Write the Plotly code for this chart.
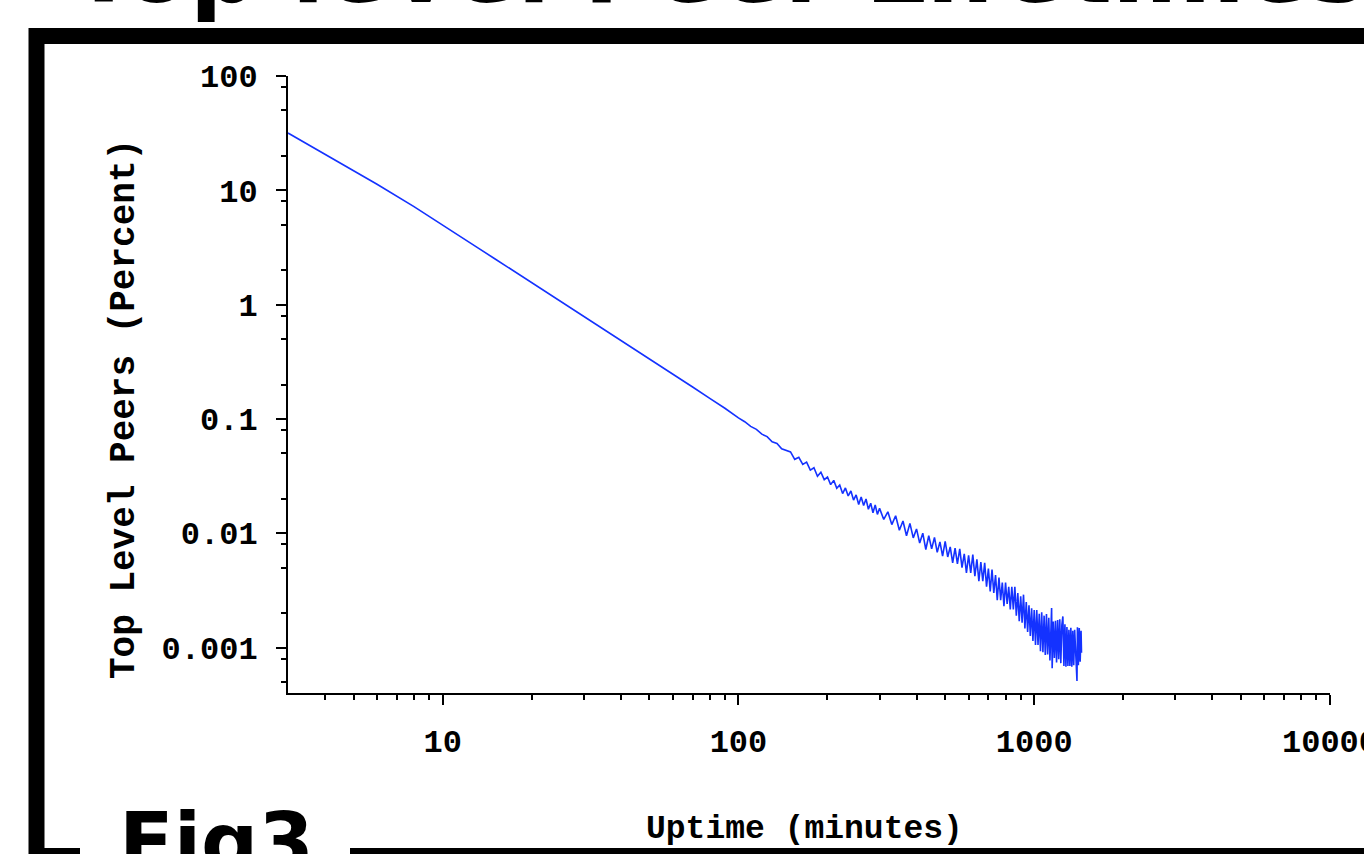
import plotly.graph_objects as go

# ---------------- data ----------------
uptime_minutes = [
    3, 4, 5, 6, 8, 10, 12, 13, 15, 20, 25, 30, 40, 50, 60, 70, 80, 90, 100,
    105, 110, 115, 120, 125, 130, 135, 140, 145,
    150, 155, 160, 165, 170, 175, 180, 185, 190, 195, 200, 205, 210, 215, 220, 225,
    230, 235, 240, 245, 250, 255, 260, 265, 270, 275, 280, 285, 290, 295, 300,
    310, 320, 330, 340, 350, 360, 370, 380, 390, 400, 410, 420, 430, 440, 450,
    460, 470, 480, 490, 500, 510, 520, 530, 540, 550, 560, 570, 580, 590, 600,
    610, 620, 630, 640, 650, 660, 670, 680, 690, 700, 710, 720, 730, 740, 750,
    760, 770, 780, 790, 800, 810, 820, 830, 840, 850, 860, 870, 880, 890, 900,
    910, 920, 930, 940, 950, 960, 970, 980, 990, 1000, 1010, 1020, 1030, 1040,
    1050, 1060, 1070, 1080, 1090, 1100, 1110, 1120, 1130, 1140, 1145, 1150, 1160,
    1170, 1180, 1190, 1200, 1210, 1220, 1230, 1240, 1250, 1260, 1270, 1280, 1290,
    1300, 1310, 1320, 1330, 1340, 1350, 1360, 1370, 1380, 1395, 1400, 1410, 1420,
    1430, 1440, 1445,
]
peers_percent = [
    31.7, 20.8, 15.0, 11.3, 7.2, 5.0, 3.7, 3.2, 2.52, 1.56, 1.07, 0.79, 0.485,
    0.333, 0.246, 0.190, 0.151, 0.124, 0.102,
    0.0945, 0.0860, 0.0810, 0.0735, 0.0700, 0.0630, 0.0610, 0.0548, 0.0530,
    0.0514, 0.0443, 0.0462, 0.0400, 0.0419, 0.0356, 0.0374, 0.0315, 0.0342, 0.0294,
    0.0310, 0.0266, 0.0290, 0.0247, 0.0264, 0.0222, 0.0249, 0.0212, 0.0234, 0.0195,
    0.0216, 0.0178, 0.0207, 0.0175, 0.0199, 0.0162, 0.0183, 0.0151, 0.0177, 0.0146,
    0.0165,
    0.0132, 0.0154, 0.0119, 0.0142, 0.0106, 0.0128, 0.0095, 0.0122, 0.0091, 0.0109,
    0.0082, 0.0100, 0.0072, 0.0095, 0.0073, 0.0092, 0.0068, 0.0084, 0.0063, 0.0085,
    0.0062, 0.0076, 0.0055, 0.0074, 0.0054, 0.0073, 0.0050, 0.0066, 0.0045, 0.0064,
    0.0045, 0.0065, 0.0042, 0.0059, 0.0038, 0.0056, 0.0038, 0.0055, 0.0034, 0.0049,
    0.0031, 0.0048, 0.0030, 0.0043, 0.0026, 0.0041, 0.0026, 0.0037, 0.0023, 0.0037,
    0.0024, 0.0034, 0.00215, 0.0034, 0.00215, 0.0034, 0.0019, 0.0030, 0.0017, 0.0028,
    0.00165, 0.0029, 0.00147, 0.0025, 0.00137, 0.00234, 0.00126, 0.0022, 0.00114,
    0.00213, 0.00105, 0.00213, 0.00105, 0.00197, 0.00093, 0.00203, 0.00091, 0.0019,
    0.00086, 0.00196, 0.00087, 0.00182, 0.00077, 0.0019, 0.00222, 0.00066, 0.00169,
    0.00081, 0.00171, 0.00074, 0.00174, 0.00079, 0.00177, 0.00073, 0.00157, 0.00187,
    0.00069, 0.0016, 0.00068, 0.00151, 0.00069, 0.00143, 0.00069, 0.00149, 0.00068,
    0.0014, 0.0007, 0.00143, 0.00078, 0.00051, 0.0015, 0.0007, 0.00148, 0.00075,
    0.0014, 0.0009,
]

x_tick_vals = [10, 100, 1000, 10000]
x_tick_text = ["10", "100", "1000", "10000"]
x_minor_vals = [4, 5, 6, 7, 8, 9, 20, 30, 40, 50, 60, 70, 80, 90,
                200, 300, 400, 500, 600, 700, 800, 900,
                2000, 3000, 4000, 5000, 6000, 7000, 8000, 9000]
y_tick_vals = [100, 10, 1, 0.1, 0.01, 0.001]
y_tick_text = ["100", "10", "1", "0.1", "0.01", "0.001"]
y_minor_vals = [80, 50, 20, 8, 5, 2, 0.8, 0.5, 0.2, 0.08, 0.05, 0.02,
                0.008, 0.005, 0.002, 0.0008, 0.0005]

title_text = "Top level Peer Lifetimes"
x_title = "Uptime (minutes)"
y_title = "Top Level Peers (Percent)"
fig_label = "Fig3"

# ---------------- layout geometry ----------------
W, H = 1364, 854
ML, MR, MT, MB = 288, 34, 76, 161
PW, PH = W - ML - MR, H - MT - MB


def px(x):
    return (x - ML) / PW


def py(y):
    return (H - MB - y) / PH


mono = "Liberation Mono, DejaVu Sans Mono, monospace"

fig = go.Figure()
fig.add_trace(go.Scatter(
    x=uptime_minutes, y=peers_percent, mode="lines",
    line=dict(color="rgb(20,50,255)", width=1.6),
    showlegend=False, hoverinfo="x+y",
))

axis_common = dict(
    type="log", showgrid=False, zeroline=False, showline=True,
    linecolor="black", linewidth=2, ticks="outside", ticklen=10,
    tickwidth=2, tickcolor="black", tickmode="array",
    tickfont=dict(family=mono, size=32, color="black", weight="bold"),
    automargin=False, ticklabeloverflow="allow",
)

fig.update_xaxes(
    **axis_common, range=[0.47712, 4.0],
    tickvals=x_tick_vals, ticktext=x_tick_text, ticklabelstandoff=9,
    minor=dict(tickmode="array", tickvals=x_minor_vals, ticks="outside",
               ticklen=5, tickwidth=2, tickcolor="black", showgrid=False),
)
fig.update_yaxes(
    **axis_common, range=[-3.398, 2.0],
    tickvals=y_tick_vals, ticktext=y_tick_text, ticklabelstandoff=12,
    minor=dict(tickmode="array", tickvals=y_minor_vals, ticks="outside",
               ticklen=5, tickwidth=2, tickcolor="black", showgrid=False),
)

shapes = [
    # thick slide frame
    dict(type="rect", xref="paper", yref="paper",
         x0=px(36.5), x1=px(1420), y0=py(856), y1=py(36),
         line=dict(color="black", width=16), fillcolor="rgba(0,0,0,0)",
         layer="above"),
    # white gap behind "Fig3"
    dict(type="rect", xref="paper", yref="paper",
         x0=px(80), x1=px(350), y0=py(870), y1=py(846),
         line=dict(width=0), fillcolor="white", layer="above"),
]

annotations = [
    dict(text=title_text, xref="paper", yref="paper", x=px(69), y=py(27),
         xanchor="left", yanchor="bottom", showarrow=False,
         font=dict(family="DejaVu Sans", size=96, color="black", weight="bold")),
    dict(text=fig_label, xref="paper", yref="paper", x=px(117), y=py(794),
         xanchor="left", yanchor="top", showarrow=False,
         font=dict(family="DejaVu Sans", size=80, color="black", weight="bold")),
    dict(text=x_title, xref="paper", yref="paper", x=px(804), y=py(829),
         xanchor="center", yanchor="middle", showarrow=False,
         font=dict(family=mono, size=33, color="black", weight="bold")),
    dict(text=y_title, xref="paper", yref="paper", x=px(124), y=py(409),
         xanchor="center", yanchor="middle", showarrow=False, textangle=-90,
         font=dict(family=mono, size=36, color="black", weight="bold")),
]

fig.update_layout(
    width=W, height=H, margin=dict(l=ML, r=MR, t=MT, b=MB, pad=0),
    paper_bgcolor="white", plot_bgcolor="white",
    shapes=shapes, annotations=annotations, showlegend=False,
)

fig.write_html("out.html")
